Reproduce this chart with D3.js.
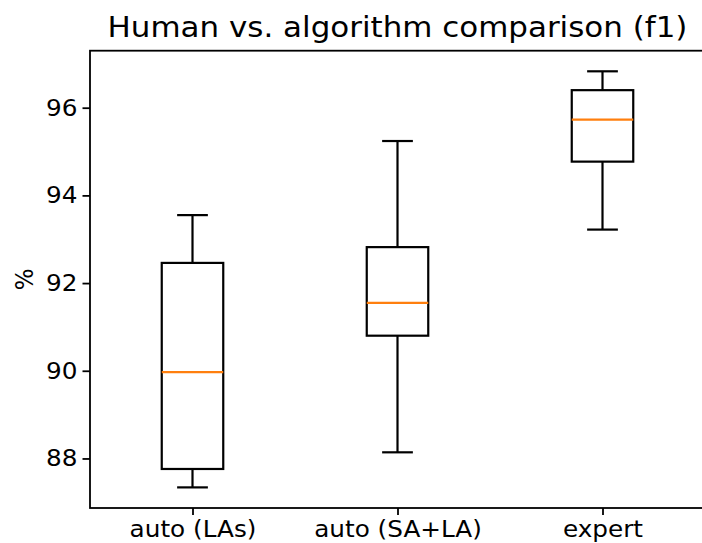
<!DOCTYPE html>
<html>
<head>
<meta charset="utf-8">
<script src="https://cdn.jsdelivr.net/npm/d3@7"></script>
<style>
  html, body { margin: 0; padding: 0; background: #fff; }
  svg { display: block; font-family: "DejaVu Sans", sans-serif; }
</style>
</head>
<body>
<div id="chart"></div>
<script>
// box stats
const categories = ['auto (LAs)', 'auto (SA+LA)', 'expert'];
const whiskerLow = [87.34, 88.14, 93.22];
const q1 = [87.76, 90.80, 94.77];
const median = [89.97, 91.55, 95.73];
const q3 = [92.46, 92.82, 96.40];
const whiskerHigh = [93.55, 95.24, 96.83];
const yTicks = [88, 90, 92, 94, 96];

const W = 702, H = 543;
const margin = { top: 50.7, right: -3, bottom: 35, left: 90 };
const tickFont = 23;
const stretch = 1.075; // the source image is a bit wider than tall

const svg = d3.select('#chart').append('svg')
    .attr('width', W)
    .attr('height', H);

const x = d3.scaleLinear()
    .domain([0.5, categories.length + 0.5])
    .range([margin.left, W - margin.right]);

const y = d3.scaleLinear()
    .domain([86.87, 97.30])
    .range([H - margin.bottom, margin.top]);

const boxW = x(1.15) - x(0.85);
const capW = boxW / 2;

// boxes
const g = svg.append('g').attr('fill', 'none');
categories.forEach((c, i) => {
    const cx = x(i + 1);
    g.append('line')
        .attr('x1', cx).attr('x2', cx)
        .attr('y1', y(whiskerLow[i])).attr('y2', y(q1[i]))
        .attr('stroke', '#000').attr('stroke-width', 2.2);
    g.append('line')
        .attr('x1', cx).attr('x2', cx)
        .attr('y1', y(q3[i])).attr('y2', y(whiskerHigh[i]))
        .attr('stroke', '#000').attr('stroke-width', 2.2);
    [whiskerLow[i], whiskerHigh[i]].forEach(v => {
        g.append('line')
            .attr('x1', cx - capW / 2).attr('x2', cx + capW / 2)
            .attr('y1', y(v)).attr('y2', y(v))
            .attr('stroke', '#000').attr('stroke-width', 2.2);
    });
    g.append('rect')
        .attr('x', cx - boxW / 2)
        .attr('y', y(q3[i]))
        .attr('width', boxW)
        .attr('height', y(q1[i]) - y(q3[i]))
        .attr('stroke', '#000').attr('stroke-width', 2.2);
    g.append('line')
        .attr('x1', cx - boxW / 2).attr('x2', cx + boxW / 2)
        .attr('y1', y(median[i])).attr('y2', y(median[i]))
        .attr('stroke', '#ff7f0e').attr('stroke-width', 2.2);
});

// axes
const yAxis = d3.axisLeft(y).tickValues(yTicks).tickSize(7.5).tickPadding(5);
const xAxis = d3.axisBottom(x)
    .tickValues(d3.range(1, categories.length + 1))
    .tickFormat(d => categories[d - 1])
    .tickSize(7).tickPadding(6);

const ya = svg.append('g')
    .attr('transform', `translate(${margin.left},0)`)
    .call(yAxis);
const xa = svg.append('g')
    .attr('transform', `translate(0,${H - margin.bottom})`)
    .call(xAxis);

[ya, xa].forEach(a => {
    a.select('.domain').remove();
    a.selectAll('.tick line').attr('stroke', '#000').attr('stroke-width', 1.8);
    a.selectAll('.tick text')
        .attr('fill', '#000')
        .attr('transform', `scale(${stretch},1)`)
        .style('font-family', '"DejaVu Sans", sans-serif')
        .style('font-size', tickFont + 'px');
});
ya.selectAll('.tick text').attr('x', -12.5 / stretch);

// frame
svg.append('rect')
    .attr('x', margin.left)
    .attr('y', margin.top)
    .attr('width', W - margin.right - margin.left)
    .attr('height', H - margin.bottom - margin.top)
    .attr('fill', 'none')
    .attr('stroke', '#000')
    .attr('stroke-width', 1.8);

// labels
svg.append('text')
    .attr('transform', `translate(${(margin.left + W - margin.right) / 2},36.5) scale(${stretch},1)`)
    .attr('text-anchor', 'middle')
    .style('font-size', '28.8px')
    .text('Human vs. algorithm comparison (f1)');

svg.append('text')
    .attr('transform', `translate(33,${(margin.top + H - margin.bottom) / 2}) scale(${stretch},1) rotate(-90)`)
    .attr('text-anchor', 'middle')
    .style('font-size', tickFont + 'px')
    .text('%');
</script>
</body>
</html>
